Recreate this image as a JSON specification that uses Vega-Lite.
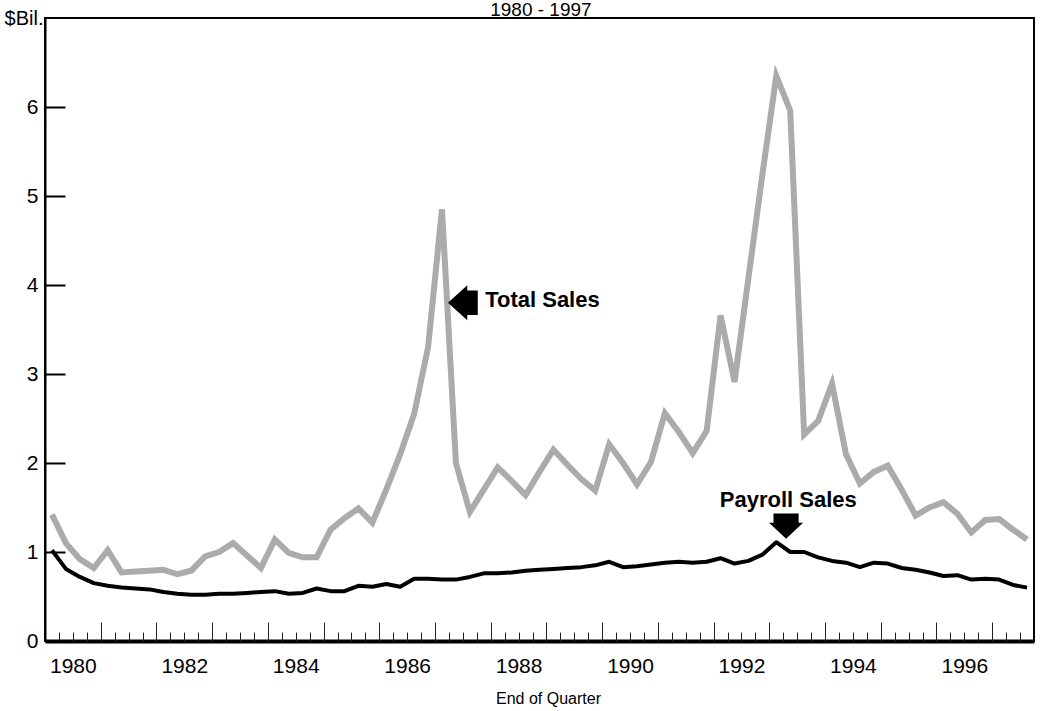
{
  "$schema": "https://vega.github.io/schema/vega-lite/v6.json",
  "autosize": {"type": "none"},
  "width": 989,
  "height": 623,
  "padding": {"left": 45, "top": 18, "right": 6, "bottom": 70},
  "background": "white",
  "config": {"view": {"stroke": "#000", "strokeWidth": 2}, "font": "Liberation Sans"},
  "datasets": {
    "sales": [
      {"t": 1980.125, "total": 1.42, "payroll": 1.02},
      {"t": 1980.375, "total": 1.10, "payroll": 0.81},
      {"t": 1980.625, "total": 0.92, "payroll": 0.72},
      {"t": 1980.875, "total": 0.82, "payroll": 0.65},
      {"t": 1981.125, "total": 1.02, "payroll": 0.62},
      {"t": 1981.375, "total": 0.77, "payroll": 0.60},
      {"t": 1981.625, "total": 0.78, "payroll": 0.59},
      {"t": 1981.875, "total": 0.79, "payroll": 0.58},
      {"t": 1982.125, "total": 0.80, "payroll": 0.55},
      {"t": 1982.375, "total": 0.75, "payroll": 0.53},
      {"t": 1982.625, "total": 0.79, "payroll": 0.52},
      {"t": 1982.875, "total": 0.95, "payroll": 0.52},
      {"t": 1983.125, "total": 1.00, "payroll": 0.53},
      {"t": 1983.375, "total": 1.10, "payroll": 0.53},
      {"t": 1983.625, "total": 0.96, "payroll": 0.54},
      {"t": 1983.875, "total": 0.82, "payroll": 0.55},
      {"t": 1984.125, "total": 1.14, "payroll": 0.56},
      {"t": 1984.375, "total": 0.99, "payroll": 0.53},
      {"t": 1984.625, "total": 0.94, "payroll": 0.54},
      {"t": 1984.875, "total": 0.94, "payroll": 0.59},
      {"t": 1985.125, "total": 1.25, "payroll": 0.56},
      {"t": 1985.375, "total": 1.38, "payroll": 0.56},
      {"t": 1985.625, "total": 1.49, "payroll": 0.62},
      {"t": 1985.875, "total": 1.33, "payroll": 0.61},
      {"t": 1986.125, "total": 1.70, "payroll": 0.64},
      {"t": 1986.375, "total": 2.10, "payroll": 0.61},
      {"t": 1986.625, "total": 2.55, "payroll": 0.70},
      {"t": 1986.875, "total": 3.30, "payroll": 0.70},
      {"t": 1987.125, "total": 4.85, "payroll": 0.69},
      {"t": 1987.375, "total": 2.00, "payroll": 0.69},
      {"t": 1987.625, "total": 1.45, "payroll": 0.72},
      {"t": 1987.875, "total": 1.70, "payroll": 0.76},
      {"t": 1988.125, "total": 1.95, "payroll": 0.76},
      {"t": 1988.375, "total": 1.80, "payroll": 0.77},
      {"t": 1988.625, "total": 1.64, "payroll": 0.79},
      {"t": 1988.875, "total": 1.90, "payroll": 0.80},
      {"t": 1989.125, "total": 2.15, "payroll": 0.81},
      {"t": 1989.375, "total": 1.98, "payroll": 0.82},
      {"t": 1989.625, "total": 1.82, "payroll": 0.83},
      {"t": 1989.875, "total": 1.69, "payroll": 0.85},
      {"t": 1990.125, "total": 2.21, "payroll": 0.89},
      {"t": 1990.375, "total": 2.00, "payroll": 0.83},
      {"t": 1990.625, "total": 1.76, "payroll": 0.84},
      {"t": 1990.875, "total": 2.01, "payroll": 0.86},
      {"t": 1991.125, "total": 2.56, "payroll": 0.88},
      {"t": 1991.375, "total": 2.35, "payroll": 0.89},
      {"t": 1991.625, "total": 2.11, "payroll": 0.88},
      {"t": 1991.875, "total": 2.36, "payroll": 0.89},
      {"t": 1992.125, "total": 3.66, "payroll": 0.93},
      {"t": 1992.375, "total": 2.91, "payroll": 0.87},
      {"t": 1992.625, "total": 4.08, "payroll": 0.90},
      {"t": 1992.875, "total": 5.24, "payroll": 0.97},
      {"t": 1993.125, "total": 6.35, "payroll": 1.11},
      {"t": 1993.375, "total": 5.96, "payroll": 1.00},
      {"t": 1993.625, "total": 2.32, "payroll": 1.00},
      {"t": 1993.875, "total": 2.47, "payroll": 0.94},
      {"t": 1994.125, "total": 2.89, "payroll": 0.90},
      {"t": 1994.375, "total": 2.10, "payroll": 0.88},
      {"t": 1994.625, "total": 1.77, "payroll": 0.83},
      {"t": 1994.875, "total": 1.90, "payroll": 0.88},
      {"t": 1995.125, "total": 1.97, "payroll": 0.87},
      {"t": 1995.375, "total": 1.70, "payroll": 0.82},
      {"t": 1995.625, "total": 1.41, "payroll": 0.80},
      {"t": 1995.875, "total": 1.50, "payroll": 0.77},
      {"t": 1996.125, "total": 1.56, "payroll": 0.73},
      {"t": 1996.375, "total": 1.43, "payroll": 0.74},
      {"t": 1996.625, "total": 1.22, "payroll": 0.69},
      {"t": 1996.875, "total": 1.36, "payroll": 0.70},
      {"t": 1997.125, "total": 1.37, "payroll": 0.69},
      {"t": 1997.375, "total": 1.25, "payroll": 0.63},
      {"t": 1997.625, "total": 1.14, "payroll": 0.60}
    ],
    "ann": [
      {"t": 1987.9, "v": 3.83, "label": "Total Sales"},
      {"t": 1992.11, "v": 1.58, "label": "Payroll Sales"}
    ],
    "heading": [
      {"t": 1988.9, "v": 7.02, "label": "1980 - 1997"}
    ],
    "arrows": [
      {"t": 1987.5, "v": 3.80, "dir": "left"},
      {"t": 1993.3, "v": 1.29, "dir": "down"}
    ]
  },
  "resolve": {"axis": {"x": "independent", "y": "independent"}},
  "layer": [
    {
      "data": {"name": "sales"},
      "mark": {"type": "line", "color": "#ababab", "strokeWidth": 6, "strokeJoin": "miter"},
      "encoding": {
        "x": {
          "field": "t", "type": "quantitative",
          "scale": {"domain": [1980, 1997.75], "nice": false, "zero": false},
          "axis": {
            "orient": "bottom",
            "values": [1980.5, 1982.5, 1984.5, 1986.5, 1988.5, 1990.5, 1992.5, 1994.5, 1996.5],
            "labelExpr": "'' + floor(datum.value)",
            "ticks": false, "tickSize": 0, "grid": false,
            "domain": true, "domainColor": "#000", "domainWidth": 4,
            "labelFont": "Liberation Sans", "labelFontSize": 21, "labelColor": "#000",
            "labelPadding": 14, "labelFlush": false, "labelOverlap": false,
            "title": "End of Quarter", "titleFont": "Liberation Sans", "titleFontSize": 16,
            "titleFontWeight": "normal", "titleColor": "#000",
            "titleX": 503, "titleY": 57, "titleBaseline": "middle", "titleAlign": "center"
          }
        },
        "y": {
          "field": "total", "type": "quantitative",
          "scale": {"domain": [0, 7], "nice": false, "zero": true},
          "axis": {
            "orient": "left",
            "values": [0, 1, 2, 3, 4, 5, 6],
            "ticks": true, "tickSize": -20, "tickColor": "#000", "tickWidth": 2, "grid": false,
            "domain": true, "domainColor": "#000", "domainWidth": 2,
            "labelFont": "Liberation Sans", "labelFontSize": 21, "labelColor": "#000",
            "labelPadding": 27, "labelOverlap": false,
            "title": "$Bil.", "titleFont": "Liberation Sans", "titleFontSize": 20,
            "titleFontWeight": "normal", "titleColor": "#000",
            "titleAngle": 0, "titleAlign": "right", "titleBaseline": "middle",
            "titleX": -2, "titleY": 0
          }
        }
      }
    },
    {
      "data": {"name": "sales"},
      "mark": {"type": "line", "color": "#000", "strokeWidth": 4, "strokeJoin": "round"},
      "encoding": {
        "x": {
          "field": "t", "type": "quantitative",
          "scale": {"domain": [1980, 1997.75], "nice": false, "zero": false},
          "axis": {
            "orient": "bottom",
            "values": [1981, 1982, 1983, 1984, 1985, 1986, 1987, 1988, 1989, 1990, 1991, 1992, 1993, 1994, 1995, 1996, 1997],
            "ticks": true, "tickSize": -19, "tickColor": "#222", "tickWidth": 1,
            "labels": false, "domain": false, "grid": false, "title": null
          }
        },
        "y": {
          "field": "payroll", "type": "quantitative",
          "scale": {"domain": [0, 7], "nice": false, "zero": true},
          "axis": null
        }
      }
    },
    {
      "data": {"name": "ann"},
      "mark": {"type": "text", "align": "left", "baseline": "middle", "font": "Liberation Sans", "fontSize": 22, "fontWeight": "bold", "color": "#000"},
      "encoding": {
        "x": {
          "field": "t", "type": "quantitative",
          "scale": {"domain": [1980, 1997.75], "nice": false, "zero": false},
          "axis": {
            "orient": "bottom",
            "values": [1980.25, 1980.5, 1980.75, 1981.25, 1981.5, 1981.75, 1982.25, 1982.5, 1982.75, 1983.25, 1983.5, 1983.75, 1984.25, 1984.5, 1984.75, 1985.25, 1985.5, 1985.75, 1986.25, 1986.5, 1986.75, 1987.25, 1987.5, 1987.75, 1988.25, 1988.5, 1988.75, 1989.25, 1989.5, 1989.75, 1990.25, 1990.5, 1990.75, 1991.25, 1991.5, 1991.75, 1992.25, 1992.5, 1992.75, 1993.25, 1993.5, 1993.75, 1994.25, 1994.5, 1994.75, 1995.25, 1995.5, 1995.75, 1996.25, 1996.5, 1996.75, 1997.25, 1997.5],
            "ticks": true, "tickSize": -9, "tickColor": "#222", "tickWidth": 1,
            "labels": false, "domain": false, "grid": false, "title": null
          }
        },
        "y": {
          "field": "v", "type": "quantitative",
          "scale": {"domain": [0, 7], "nice": false, "zero": true},
          "axis": null
        },
        "text": {"field": "label", "type": "nominal"}
      }
    },
    {
      "data": {"name": "heading"},
      "mark": {"type": "text", "align": "center", "baseline": "alphabetic", "font": "Liberation Sans", "fontSize": 19, "fontWeight": "normal", "color": "#000"},
      "encoding": {
        "x": {"field": "t", "type": "quantitative", "scale": {"domain": [1980, 1997.75], "nice": false, "zero": false}, "axis": null},
        "y": {"field": "v", "type": "quantitative", "scale": {"domain": [0, 7], "nice": false, "zero": true}, "axis": null},
        "text": {"field": "label", "type": "nominal"}
      }
    },
    {
      "data": {"name": "arrows"},
      "transform": [{"filter": "datum.dir == 'left'"}],
      "mark": {"type": "point", "shape": "M-0.85,0L0.25,-1L0.25,-0.7L0.85,-0.7L0.85,0.7L0.25,0.7L0.25,1Z", "filled": true, "color": "#000", "opacity": 1, "size": 1225, "strokeWidth": 0},
      "encoding": {
        "x": {"field": "t", "type": "quantitative", "scale": {"domain": [1980, 1997.75], "nice": false, "zero": false}, "axis": null},
        "y": {"field": "v", "type": "quantitative", "scale": {"domain": [0, 7], "nice": false, "zero": true}, "axis": null}
      }
    },
    {
      "data": {"name": "arrows"},
      "transform": [{"filter": "datum.dir == 'down'"}],
      "mark": {"type": "point", "shape": "M-0.74,-0.74L0.74,-0.74L0.74,-0.2L1,-0.2L0,0.74L-1,-0.2L-0.74,-0.2Z", "filled": true, "color": "#000", "opacity": 1, "size": 1156, "strokeWidth": 0},
      "encoding": {
        "x": {"field": "t", "type": "quantitative", "scale": {"domain": [1980, 1997.75], "nice": false, "zero": false}, "axis": null},
        "y": {"field": "v", "type": "quantitative", "scale": {"domain": [0, 7], "nice": false, "zero": true}, "axis": null}
      }
    }
  ]
}
